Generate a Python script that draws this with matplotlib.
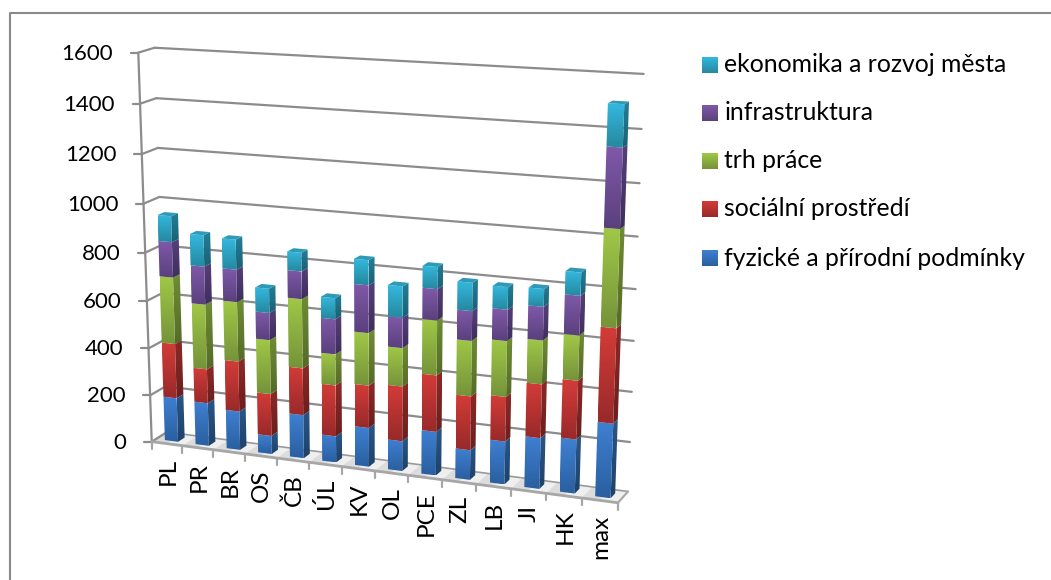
import numpy as np
import matplotlib
matplotlib.use('Agg')
import matplotlib.pyplot as plt
from matplotlib.patches import Polygon
from matplotlib.colors import to_rgb

plt.rcParams['font.family'] = ['Lato', 'DejaVu Sans']

# values
categories = ['PL', 'PR', 'BR', 'OS', 'ČB', 'ÚL', 'KV', 'OL', 'PCE', 'ZL', 'LB', 'JI', 'HK', 'max']
fyzicke = [188, 183, 164, 77, 182, 110, 162, 124, 180, 122, 175, 206, 218, 298]
socialni = [231, 144, 211, 177, 195, 212, 175, 225, 230, 219, 180, 215, 233, 372]
trh = [278, 271, 247, 225, 284, 128, 214, 156, 220, 222, 222, 173, 177, 376]
infra = [146, 157, 133, 112, 112, 143, 192, 122, 124, 118, 123, 131, 153, 301]
ekonomika = [106, 128, 122, 99, 75, 85, 100, 125, 87, 111, 88, 69, 89, 157]
y_ticks = [0, 200, 400, 600, 800, 1000, 1200, 1400, 1600]

series = [fyzicke, socialni, trh, infra, ekonomika]
names = ['fyzické a přírodní podmínky', 'sociální prostředí', 'trh práce', 'infrastruktura', 'ekonomika a rozvoj města']
# front top, front bottom, side top, side bottom
shades = [('#3f80d2', '#2a5f9f', '#2a5688', '#1f4268'),
          ('#d33c38', '#98292a', '#8c2a28', '#6a1f1e'),
          ('#a0c847', '#75933a', '#6f8c35', '#546b28'),
          ('#8059a9', '#59407c', '#55407a', '#3e2e5c'),
          ('#34b8de', '#25889f', '#237f98', '#1a6175')]
top_colour = '#2f9ab8'
grey = '#8c8c8c'

n = len(categories)

# camera fitted on the walls and floor: (slot, depth, value) -> picture pixel
anchors = [(0, 0, 1600, 137.5, 52.7), (0, 0, 0, 152.7, 440.7), (0, 1, 1600, 155, 48),
           (0, 1, 1400, 156, 98), (0, 1, 1200, 158, 147.7), (0, 1, 1000, 160, 196.7),
           (0, 1, 0, 166, 433), (14, 1, 1600, 643, 74), (14, 1, 1400, 641.7, 129),
           (14, 1, 1200, 640, 183), (14, 1, 1000, 637.7, 237), (14, 1, 800, 636, 289),
           (14, 1, 600, 633.7, 341), (14, 1, 400, 631.7, 391.7), (14, 1, 200, 630, 441.7),
           (14, 1, 0, 627.7, 491), (14, 0, 0, 618.3, 503), (7, 0, 0, 374.3, 471.7),
           (11, 0, 0, 510.7, 488.3), (13, 0, 0, 581.7, 498.3)]
rows = []
for sx, sd, sv, px, py in anchors:
    w = [sx / 14, sd, sv / 1600, 1]
    u, t = px / 1000, py / 1000
    rows.append(w + [0, 0, 0, 0] + [-u * c for c in w])
    rows.append([0, 0, 0, 0] + w + [-t * c for c in w])
cam = np.linalg.svd(np.array(rows))[2][-1].reshape(3, 4)


def proj(sx, sd, sv):
    h = cam @ np.array([sx / 14, sd, sv / 1600, 1])
    return h[0] / h[2] * 1000, h[1] / h[2] * 1000


fig = plt.figure(figsize=(10.51, 5.8), dpi=100)
ax = fig.add_axes([0, 0, 1, 1])


def shade(pts, c_top, c_bot, z=3):
    pts = np.array(pts)
    ramp = np.linspace(to_rgb(c_top), to_rgb(c_bot), 64)[:, None, :]
    im = ax.imshow(ramp, extent=[pts[:, 0].min(), pts[:, 0].max(), pts[:, 1].max(), pts[:, 1].min()],
                   aspect='auto', zorder=z, interpolation='bilinear')
    im.set_clip_path(Polygon(pts, transform=ax.transData))


def line(a, b, lw=1.6, colour=grey, z=1):
    ax.plot([a[0], b[0]], [a[1], b[1]], color=colour, lw=lw, zorder=z, solid_capstyle='round')


# frame: only the top and left edges are in the picture
ax.plot([9.5, 9.5, 1051], [580, 12.7, 12.7], color='#8a8a8a', lw=1.5, zorder=0)

# floor, mottled with alternating half slots
for j in range(2 * n):
    s0, s1 = j / 2, (j + 1) / 2
    ax.add_patch(Polygon([proj(s0, 0, 0), proj(s1, 0, 0), proj(s1, 1, 0), proj(s0, 1, 0)],
                         fc='#efefef' if j % 2 else '#dcdcdc', ec='none', zorder=1))
line(proj(0, 1, 0), proj(14, 1, 0), lw=1.2, colour='#9a9a9a', z=2)
line(proj(0, 0, 0), proj(14, 0, 0), lw=2, colour='#a6a6a6', z=2)
line(proj(14, 0, 0), proj(14, 1, 0), lw=1.5, colour='#a6a6a6', z=2)

# walls and gridlines
line(proj(0, 0, 0), proj(0, 0, 1600))
for tick in y_ticks:
    fx, fy = proj(0, 0, tick)
    line((fx - 7.5, fy), (fx, fy))
    line((fx, fy), proj(0, 1, tick))
    if tick > 0:
        line(proj(0, 1, tick), proj(14, 1, tick))
    ax.text(fx - 25, fy + 1, str(tick), ha='right', va='center', fontsize=16, color='black')

# category ticks and labels
for i in range(n + 1):
    tx, ty = proj(i, 0, 0)
    line((tx, ty), (tx, ty + 7), colour='#a6a6a6')
for i, label in enumerate(categories):
    tx, ty = proj(i + 0.5, 0, 0)
    ax.text(tx + 1, ty + 14, label, rotation=90, ha='center', va='top', fontsize=17.5, color='black')

# stacked bars
bx0, bx1, bd0, bd1 = 0.29, 0.72, 0.28, 0.72
for i in range(n):
    base = 0
    for k, values in enumerate(series):
        top = base + values[i]
        c1, c2, c3, c4 = shades[k]
        shade([proj(i + bx1, bd0, base), proj(i + bx1, bd1, base),
               proj(i + bx1, bd1, top), proj(i + bx1, bd0, top)], c3, c4)
        shade([proj(i + bx0, bd0, base), proj(i + bx1, bd0, base),
               proj(i + bx1, bd0, top), proj(i + bx0, bd0, top)], c1, c2, z=4)
        base = top
    ax.add_patch(Polygon([proj(i + bx0, bd0, base), proj(i + bx1, bd0, base),
                          proj(i + bx1, bd1, base), proj(i + bx0, bd1, base)],
                         fc=top_colour, ec='none', zorder=4))

# legend
legend_y = [258, 209, 161, 113, 65]
for k, name in enumerate(names):
    ly = legend_y[k]
    shade([(702, ly - 8), (718, ly - 8), (718, ly + 8), (702, ly + 8)], shades[k][0], shades[k][1])
    ax.text(724.5, ly, name, ha='left', va='center', fontsize=17.8, color='black')

ax.set_xlim(0, 1051)
ax.set_ylim(580, 0)
ax.axis('off')
fig.savefig('out.png', dpi=100, facecolor='white')
